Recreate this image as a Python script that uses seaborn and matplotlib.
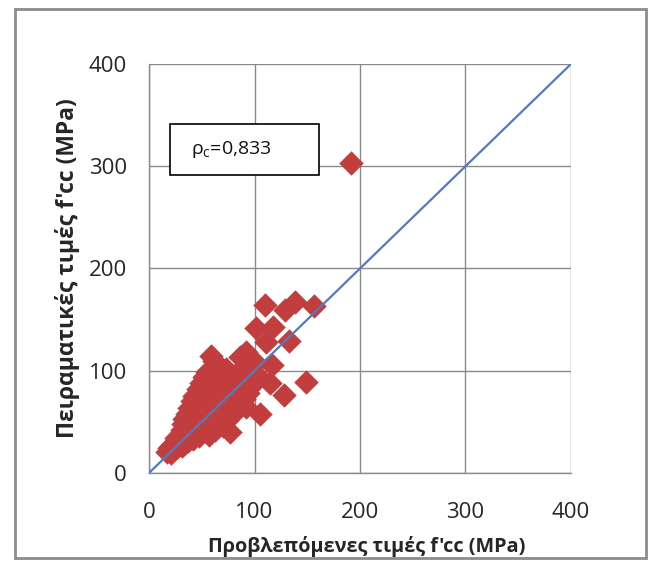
import matplotlib
matplotlib.use("Agg")
import matplotlib.pyplot as plt
from matplotlib.patches import Rectangle
import seaborn as sns
import pandas as pd

# Predicted vs experimental confined strength f'cc (MPa)
predicted = [17, 19, 21, 22, 24, 25, 26, 27, 28, 29, 30, 31, 31, 32, 33, 33, 34, 35, 36, 36,
             37, 38, 38, 39, 40, 40, 41, 42, 42, 43, 43, 44, 45, 45, 46, 47, 47, 48, 48, 49,
             50, 50, 51, 51, 52, 53, 53, 54, 54, 55, 56, 56, 57, 57, 58, 59, 60, 60, 61, 61,
             62, 62, 63, 64, 64, 65, 66, 67, 67, 68, 68, 69, 70, 70, 71, 71, 72, 73, 74, 75,
             75, 76, 77, 77, 78, 79, 80, 80, 82, 83, 84, 85, 86, 87, 88, 89, 90, 91, 92, 94,
             94, 95, 92, 98, 101, 102, 86, 105, 92, 57, 63,
             110, 129, 138, 156, 101, 118, 111, 133, 117, 115, 128, 149, 191]
experimental = [21, 24, 20, 27, 23, 30, 34, 25, 29, 37, 32, 26, 42, 48, 35, 53, 29, 39, 45, 58,
                31, 50, 64, 35, 42, 56, 70, 33, 48, 62, 75, 38, 53, 68, 82, 36, 44, 58, 74, 88,
                40, 50, 64, 80, 94, 46, 56, 70, 86, 99, 43, 52, 62, 76, 92, 114, 48, 58, 68, 84,
                100, 110, 54, 64, 76, 92, 105, 50, 60, 70, 84, 98, 46, 56, 66, 78, 90, 102, 52, 62,
                74, 86, 40, 96, 56, 68, 80, 92, 62, 74, 86, 100, 68, 80, 92, 112, 72, 84, 98, 78,
                90, 104, 118, 86, 108, 96, 113, 58, 65, 37, 42,
                164, 159, 167, 163, 142, 143, 128, 129, 106, 88, 76, 89, 303]

# Line of equality
line_x = [0, 400]
line_y = [0, 400]

ticks = [0, 100, 200, 300, 400]
x_label = "Προβλεπόμενες τιμές f'cc (MPa)"
y_label = "Πειραματικές τιμές f'cc (MPa)"
rho_text = "ρ$_{\\mathrm{c}}$=0,833"

sns.set_theme(style="white")
plt.rcParams["font.family"] = ["Open Sans", "DejaVu Sans"]
plt.rcParams["mathtext.fontset"] = "custom"
plt.rcParams["mathtext.rm"] = "Open Sans"
plt.rcParams["mathtext.it"] = "Open Sans"

df = pd.DataFrame({"pred": predicted, "exp": experimental})

fig = plt.figure(figsize=(6.51, 5.61), dpi=100)
ax = fig.add_axes([0.2289, 0.1569, 0.6482, 0.7290])

grid_c = "#8a8a8a"
ax.set_xlim(0, 400)
ax.set_ylim(0, 400)
ax.set_xticks(ticks)
ax.set_yticks(ticks)
ax.grid(True, color=grid_c, linewidth=1.0)
ax.set_axisbelow(True)
for side in ["top", "right"]:
    ax.spines[side].set_visible(False)
for side in ["left", "bottom"]:
    ax.spines[side].set_color(grid_c)
    ax.spines[side].set_linewidth(1.0)

sns.scatterplot(data=df, x="pred", y="exp", marker="D", s=155, color="#C23E3E",
                linewidth=0, ax=ax, zorder=3, clip_on=False)
sns.lineplot(x=line_x, y=line_y, color="#4F7BC0", linewidth=1.6, ax=ax, zorder=4)

ax.tick_params(axis="both", length=0, labelsize=16, labelcolor="#262626")
ax.tick_params(axis="y", pad=16)
ax.tick_params(axis="x", pad=21)

ax.set_xlabel(x_label, fontsize=14.3, fontweight="bold", color="#262626")
ax.set_ylabel(y_label, fontsize=16.5, fontweight="bold", color="#262626")
ax.xaxis.set_label_coords(0.515, -0.155)
ax.yaxis.set_label_coords(-0.163, 0.5)

ax.add_patch(Rectangle((0.05, 0.7275), 0.3525, 0.125, transform=ax.transAxes,
                       facecolor="white", edgecolor="black", linewidth=1.2, zorder=5))
ax.text(0.1, 0.79, rho_text, transform=ax.transAxes, fontsize=14, color="#111111",
        va="center", ha="left", zorder=6)

# outer chart border
fig.patches.append(Rectangle((15 / 651, 1 - 558 / 561), 631 / 651, 549 / 561,
                             transform=fig.transFigure, fill=False,
                             edgecolor="#8c8c8c", linewidth=2))

fig.savefig("out.png", dpi=100)
